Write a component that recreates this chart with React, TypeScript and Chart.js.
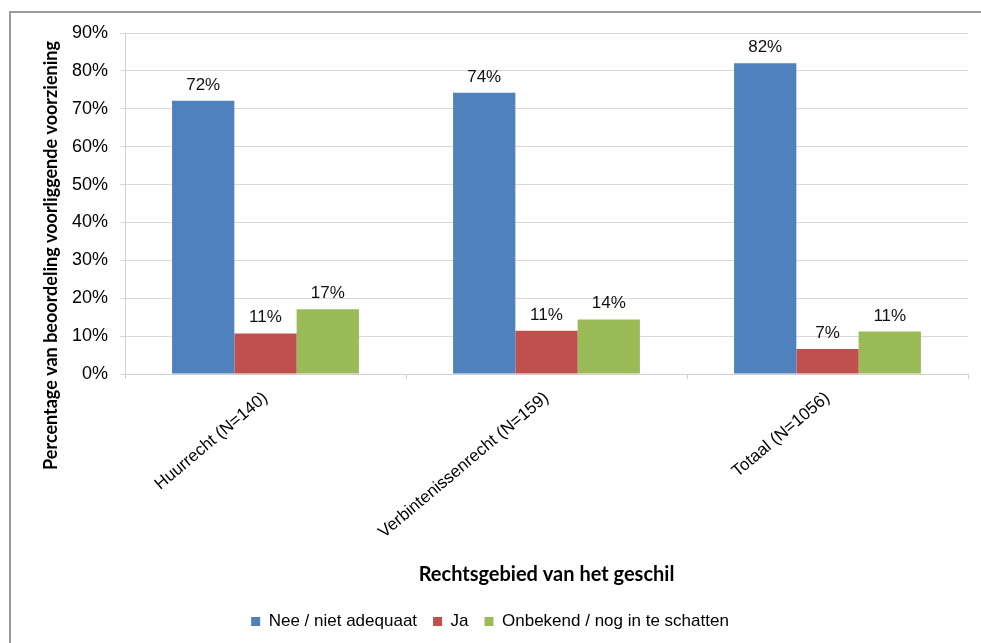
import React, { useEffect, useRef } from "react";
import { Chart, registerables } from "chart.js";

Chart.register(...registerables);

const categories = ["Huurrecht (N=140)", "Verbintenissenrecht (N=159)", "Totaal (N=1056)"];
const seriesNames = ["Nee / niet adequaat", "Ja", "Onbekend / nog in te schatten"];
const neeValues = [72.1, 74.2, 82.0];
const jaValues = [10.7, 11.4, 6.6];
const onbekendValues = [17.1, 14.4, 11.2];
const seriesColors = ["#4f81bd", "#c0504d", "#9bbb59"];
const yTicks = [0, 10, 20, 30, 40, 50, 60, 70, 80, 90];
const yTitle = "Percentage van beoordeling voorliggende voorziening";
const xTitle = "Rechtsgebied van het geschil";

const ARIAL = "'Liberation Sans', Arial, sans-serif";
const TITLE_FONT = "Lato, 'Open Sans', sans-serif";

const dataLabelPlugin = {
  id: "dataLabels",
  afterDatasetsDraw(chart: any) {
    const ctx = chart.ctx;
    ctx.save();
    ctx.font = `17px ${ARIAL}`;
    ctx.fillStyle = "#111";
    ctx.textAlign = "center";
    ctx.textBaseline = "alphabetic";
    chart.data.datasets.forEach((ds: any, i: number) => {
      const meta = chart.getDatasetMeta(i);
      meta.data.forEach((el: any, j: number) => {
        const v = ds.data[j];
        ctx.fillText(`${Math.round(v)}%`, el.x, el.y - 11);
      });
    });
    ctx.restore();
  },
};

const yTitlePlugin = {
  id: "yTitle",
  afterDraw(chart: any) {
    const { ctx, chartArea } = chart;
    ctx.save();
    ctx.font = `bold 18px ${TITLE_FONT}`;
    ctx.fillStyle = "#000";
    ctx.textAlign = "center";
    ctx.textBaseline = "middle";
    ctx.translate(chartArea.left - 74, (chartArea.top + chartArea.bottom) / 2 + 52);
    ctx.rotate(-Math.PI / 2);
    ctx.fillText(yTitle, 0, 0);
    ctx.restore();
  },
};

export default function App() {
  const ref = useRef<HTMLCanvasElement | null>(null);

  useEffect(() => {
    if (!ref.current) return;
    const chart = new Chart(ref.current, {
      type: "bar",
      data: {
        labels: categories,
        datasets: [neeValues, jaValues, onbekendValues].map((d, i) => ({
          label: seriesNames[i],
          data: d,
          backgroundColor: seriesColors[i],
          borderWidth: 0,
          barPercentage: 1,
          categoryPercentage: 0.665,
        })),
      },
      options: {
        animation: false,
        responsive: false,
        devicePixelRatio: 1,
        layout: { padding: { left: 12, right: 13, top: 33, bottom: 3 } },
        plugins: {
          legend: {
            position: "bottom",
            labels: {
              font: { family: ARIAL, size: 17 },
              color: "#000",
              boxWidth: 9,
              boxHeight: 9,
              padding: 16,
            },
          },
          tooltip: { enabled: false },
        },
        scales: {
          x: {
            grid: {
              display: true,
              drawOnChartArea: false,
              offset: true,
              tickLength: 5,
              color: "#d0d0d0",
            },
            border: { color: "#d0d0d0" },
            ticks: {
              font: { family: ARIAL, size: 17 },
              color: "#000",
              minRotation: 40,
              maxRotation: 40,
              padding: 9,
            },
            title: {
              display: true,
              text: xTitle,
              font: { family: TITLE_FONT, size: 20, weight: "bold" },
              color: "#000",
              padding: { top: 0, bottom: 10 },
            },
            afterFit(scale: any) {
              scale.height = 223;
            },
          },
          y: {
            min: 0,
            max: 90,
            afterBuildTicks(scale: any) {
              scale.ticks = yTicks.map((v) => ({ value: v }));
            },
            grid: { color: "#d9d9d9", tickLength: 5 },
            border: { color: "#d0d0d0" },
            ticks: {
              font: { family: ARIAL, size: 18 },
              color: "#000",
              padding: 12,
              callback: (v: any) => `${v}%`,
            },
            afterFit(scale: any) {
              scale.width = 113;
            },
          },
        },
      },
      plugins: [dataLabelPlugin, yTitlePlugin],
    });
    return () => chart.destroy();
  }, []);

  return (
    <div style={{ position: "fixed", left: 0, top: 0, width: 981, height: 643, background: "#fff", overflow: "hidden" }}>
      <div
        style={{
          position: "absolute",
          left: 9,
          top: 11,
          width: 1000,
          height: 700,
          borderTop: "2px solid #9a9a9a",
          borderLeft: "2px solid #9a9a9a",
        }}
      />
      <canvas ref={ref} width={981} height={643} style={{ position: "absolute", left: 0, top: 0 }} />
    </div>
  );
}
